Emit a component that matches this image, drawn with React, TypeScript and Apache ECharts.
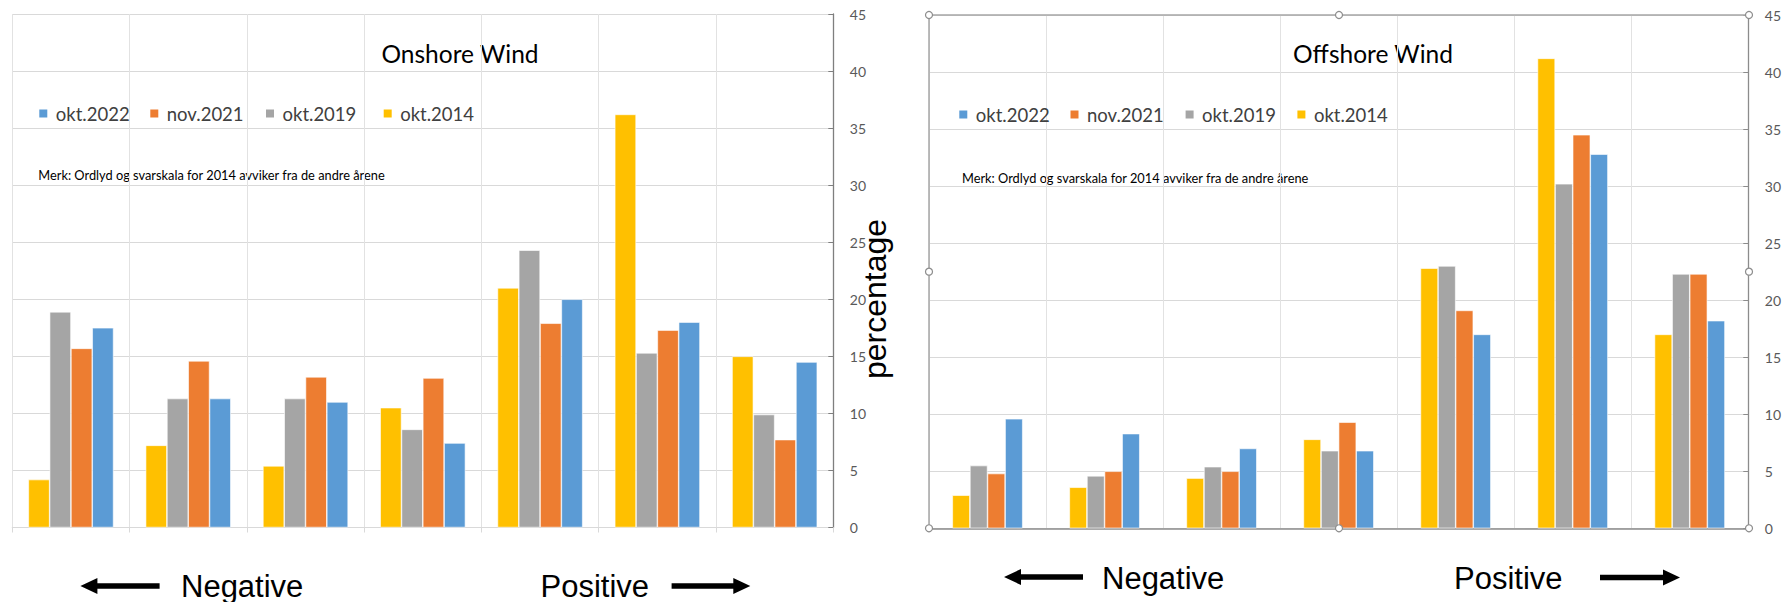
import React, { useEffect, useRef } from "react";
import * as echarts from "echarts";

const categories = ["1", "2", "3", "4", "5", "6", "7"];
const seriesNames = ["okt.2014", "okt.2019", "nov.2021", "okt.2022"];
const legendOrder = ["okt.2022", "nov.2021", "okt.2019", "okt.2014"];
const seriesColors = ["#FFC000", "#A5A5A5", "#ED7D31", "#5B9BD5"];

const onshore2014 = [4.2, 7.2, 5.4, 10.5, 21.0, 36.2, 15.0];
const onshore2019 = [18.9, 11.3, 11.3, 8.6, 24.3, 15.3, 9.9];
const onshore2021 = [15.7, 14.6, 13.2, 13.1, 17.9, 17.3, 7.7];
const onshore2022 = [17.5, 11.3, 11.0, 7.4, 20.0, 18.0, 14.5];

const offshore2014 = [2.9, 3.6, 4.4, 7.8, 22.8, 41.2, 17.0];
const offshore2019 = [5.5, 4.6, 5.4, 6.8, 23.0, 30.2, 22.3];
const offshore2021 = [4.8, 5.0, 5.0, 9.3, 19.1, 34.5, 22.3];
const offshore2022 = [9.6, 8.3, 7.0, 6.8, 17.0, 32.8, 18.2];

const yMin = 0;
const yMax = 45;
const yInterval = 5;

const titles = ["Onshore Wind", "Offshore Wind"];
const noteText = "Merk: Ordlyd og svarskala for 2014 avviker fra de andre årene";
const yAxisName = "percentage";
const negLabel = "Negative";
const posLabel = "Positive";

const FONT = "Lato, 'Noto Sans', sans-serif";
const ARIAL = "'Liberation Sans', Arial, sans-serif";

function arrowPoints(head: number, tail: number, y: number) {
  const dir = tail > head ? 1 : -1;
  const hl = 17 * dir;
  const hh = 8;
  const st = 2.7;
  return [
    [head, y],
    [head + hl, y - hh],
    [head + hl, y - st],
    [tail, y - st],
    [tail, y + st],
    [head + hl, y + st],
    [head + hl, y + hh],
  ];
}

export default function App() {
  const ref = useRef<HTMLDivElement>(null);
  useEffect(() => {
    if (!ref.current) return;
    const chart = echarts.init(ref.current, null, { renderer: "svg" });
    const onData = [onshore2014, onshore2019, onshore2021, onshore2022];
    const offData = [offshore2014, offshore2019, offshore2021, offshore2022];

    const makeSeries = (data: number[][], idx: number, bw: number) =>
      data.map((d, i) => ({
        type: "bar",
        name: seriesNames[i],
        xAxisIndex: idx,
        yAxisIndex: idx,
        data: d,
        barWidth: bw,
        barGap: "0%",
        itemStyle: { color: seriesColors[i], borderColor: "#ffffff", borderWidth: 0.6 },
        emphasis: { disabled: true },
      }));

    const xAxisBase = (idx: number, lineColor: string, lineWidth: number, showTick: boolean) => ({
      type: "category",
      gridIndex: idx,
      data: categories,
      axisLine: { show: true, lineStyle: { color: lineColor, width: lineWidth } },
      axisTick: { show: showTick, length: 5, lineStyle: { color: "#d9d9d9" } },
      axisLabel: { show: false },
      splitLine: { show: true, lineStyle: { color: "#e2e2e2", width: 1 } },
    });
    const yAxisBase = (idx: number, lineColor: string) => ({
      type: "value",
      gridIndex: idx,
      position: "right",
      min: yMin,
      max: yMax,
      interval: yInterval,
      axisLine: { show: true, lineStyle: { color: lineColor, width: 1.3 } },
      axisTick: { show: true, inside: true, length: 5, lineStyle: { color: lineColor } },
      axisLabel: { color: "#595959", fontSize: 14, fontFamily: FONT, margin: 16.5 },
      splitLine: { show: true, lineStyle: { color: "#d9d9d9", width: 1 } },
    });

    const legendItem = (name: string, left: number, top: number) => ({
      left,
      top,
      padding: 0,
      data: [name],
      icon: "rect",
      itemWidth: 10,
      itemHeight: 10,
      selectedMode: false,
      textStyle: { fontSize: 18.5, fontFamily: FONT, color: "#404040", padding: [0, 0, 0, 2.5] },
    });
    const leftLegendX = [37.3, 148.3, 264, 381.7];
    const rightLegendX = [957.3, 1068.5, 1183.6, 1295.4];
    const legends = [
      ...legendOrder.map((n, i) => legendItem(n, leftLegendX[i], 104)),
      ...legendOrder.map((n, i) => legendItem(n, rightLegendX[i], 105)),
    ];

    const text = (x: number, y: number, t: string, size: number, align = "left", family = FONT) => ({
      type: "text",
      x,
      y,
      silent: true,
      style: {
        text: t,
        fontSize: size,
        fontFamily: family,
        fill: "#000000",
        textAlign: align,
        textVerticalAlign: "middle",
      },
    });

    const handle = (x: number, y: number) => ({
      type: "circle",
      shape: { cx: x, cy: y, r: 3.5 },
      style: { fill: "#ffffff", stroke: "#8c8c8c", lineWidth: 1.2 },
      z: 100,
      silent: true,
    });

    const frameL = 929, frameR = 1749, frameT = 15, frameB = 528.3;

    const graphics: any[] = [
      text(460, 53, titles[0], 24.5, "center"),
      text(1373, 53, titles[1], 24.5, "center"),
      text(38.3, 174.5, noteText, 12.8),
      text(962, 178, noteText, 12.8),
      {
        type: "text",
        x: 875,
        y: 299,
        rotation: Math.PI / 2,
        silent: true,
        style: {
          text: yAxisName,
          fontSize: 32,
          fontFamily: ARIAL,
          fill: "#000000",
          textAlign: "center",
          textVerticalAlign: "middle",
        },
      },
      text(181, 586, negLabel, 31, "left", ARIAL),
      text(540.5, 586.5, posLabel, 31, "left", ARIAL),
      text(1102, 578, negLabel, 31, "left", ARIAL),
      text(1454, 578.5, posLabel, 31, "left", ARIAL),
      { type: "polygon", shape: { points: arrowPoints(80.4, 159.6, 586) }, style: { fill: "#000" }, silent: true },
      { type: "polygon", shape: { points: arrowPoints(750.3, 671.6, 586) }, style: { fill: "#000" }, silent: true },
      { type: "polygon", shape: { points: arrowPoints(1004, 1083, 577) }, style: { fill: "#000" }, silent: true },
      { type: "polygon", shape: { points: arrowPoints(1680, 1600, 577.5) }, style: { fill: "#000" }, silent: true },
      {
        type: "polyline",
        shape: { points: [[frameL, frameB], [frameL, frameT], [frameR, frameT]] },
        style: { stroke: "#a6a6a6", lineWidth: 1.5, fill: null },
        z: 90,
        silent: true,
      },
      handle(frameL, frameT),
      handle((frameL + frameR) / 2, frameT),
      handle(frameR, frameT),
      handle(frameL, (frameT + frameB) / 2),
      handle(frameR, (frameT + frameB) / 2),
      handle(frameL, frameB),
      handle((frameL + frameR) / 2, frameB),
      handle(frameR, frameB),
    ];

    chart.setOption({
      animation: false,
      backgroundColor: "#ffffff",
      grid: [
        { left: 12.3, top: 14, width: 821, height: 513.5 },
        { left: frameL, top: frameT, width: frameR - frameL, height: frameB - frameT },
      ],
      xAxis: [xAxisBase(0, "#d9d9d9", 1.2, true), xAxisBase(1, "#8c8c8c", 1.5, false)],
      yAxis: [yAxisBase(0, "#7f7f7f"), yAxisBase(1, "#8c8c8c")],
      legend: legends,
      series: [...makeSeries(onData, 0, 21.3), ...makeSeries(offData, 1, 17.6)],
      graphic: graphics,
    });
    return () => chart.dispose();
  }, []);
  return (
    <div
      ref={ref}
      style={{ position: "absolute", left: 0, top: 0, width: 1784, height: 602, background: "#fff" }}
    />
  );
}
